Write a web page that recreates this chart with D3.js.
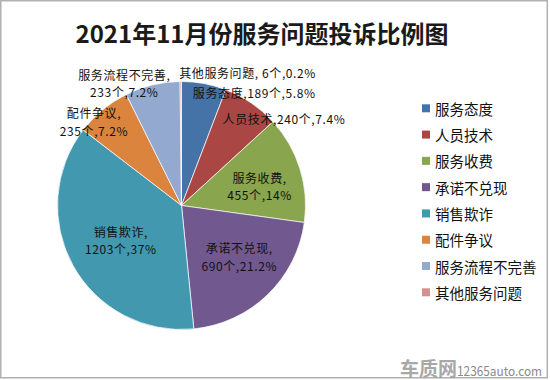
<!DOCTYPE html>
<html><head><meta charset="utf-8">
<script src="https://cdn.jsdelivr.net/npm/d3@7"></script>
<style>
html,body{margin:0;padding:0;background:#fff;}
svg{display:block;}
text{font-family:"Noto Sans CJK SC","Liberation Sans",sans-serif;}
</style></head>
<body>
<svg id="chart" width="550" height="380"></svg>
<script>
const title = "2021年11月份服务问题投诉比例图";
const categories = ["服务态度","人员技术","服务收费","承诺不兑现","销售欺诈","配件争议","服务流程不完善","其他服务问题"];
const counts = [189,240,455,690,1203,235,233,6];
const percentLabels = ["5.8%","7.4%","14%","21.2%","37%","7.2%","7.2%","0.2%"];
const colors = ["#4572A7","#AA4643","#89A54E","#71588F","#4198AF","#DB843D","#93A9CF","#D19392"];
// label layout: [angle in degrees from 12 o'clock, radius factor, multi-line]
const labelLayout = [[33.1,1.074,false],[50.0,1.079,false],[76.7,0.647,true],[132.0,0.627,true],[239.8,0.566,true],[313.5,0.973,true],[334.8,1.083,true],[26.6,1.19,false]];

const svg = d3.select("#chart");
svg.append("rect").attr("x",0.75).attr("y",0.75).attr("width",546.5).attr("height",377)
  .attr("fill","#fff").attr("stroke","#b0b0b0").attr("stroke-width",1.5);

svg.append("text").attr("x",262).attr("y",32).attr("text-anchor","middle")
  .attr("dominant-baseline","central").attr("font-size",24).attr("font-weight","bold")
  .attr("fill","#1a1a1a").text(title);

const cx = 181.5, cy = 205.5, r = 124;
const data = categories.map((c,i)=>({name:c,value:counts[i],pct:percentLabels[i],color:colors[i],layout:labelLayout[i]}));
const pie = d3.pie().value(d=>d.value).sort(null).startAngle(0).endAngle(2*Math.PI);
const arc = d3.arc().innerRadius(0).outerRadius(r);
const g = svg.append("g").attr("transform",`translate(${cx},${cy})`);
const arcs = pie(data);
g.selectAll("path").data(arcs).enter().append("path")
  .attr("d",arc).attr("fill",d=>d.data.color).attr("stroke","#fff").attr("stroke-width",0.7);

const labels = g.selectAll("text.lbl").data(arcs).enter().append("text").attr("class","lbl")
  .attr("text-anchor","middle").attr("font-size",12).attr("letter-spacing","0.6px").attr("fill","#111")
  .attr("transform",d=>{
    const a = d.data.layout[0]*Math.PI/180, f = d.data.layout[1];
    return `translate(${Math.sin(a)*r*f},${-Math.cos(a)*r*f})`;
  });
labels.each(function(d){
  const sel = d3.select(this);
  const sep = d.data.name==="其他服务问题" ? ", " : ",";
  if(d.data.layout[2]){
    sel.append("tspan").attr("x",0).attr("y",-4.3).text(d.data.name+",");
    sel.append("tspan").attr("x",0).attr("y",13.3).text(d.data.value+"个,"+d.data.pct);
  } else {
    sel.append("tspan").attr("x",0).attr("y",4.3).text(d.data.name+sep+d.data.value+"个,"+d.data.pct);
  }
});

const legend = svg.append("g");
const ly = d3.scalePoint().domain(categories).range([108.3,292.3]);
legend.selectAll("rect").data(data).enter().append("rect")
  .attr("x",422).attr("y",d=>ly(d.name)-4).attr("width",8).attr("height",8).attr("fill",d=>d.color);
legend.selectAll("text").data(data).enter().append("text")
  .attr("x",435).attr("y",d=>ly(d.name)).attr("dominant-baseline","central")
  .attr("font-size",14.5).attr("fill","#111").text(d=>d.name);

svg.append("text").attr("x",400).attr("y",376).attr("font-size",19).attr("font-weight","bold")
  .attr("fill","#9a9a9a").attr("opacity",0.85).text("车质网");
svg.append("text").attr("x",457).attr("y",376).attr("font-size",13)
  .attr("textLength",85).attr("lengthAdjust","spacingAndGlyphs")
  .attr("fill","#8a8a8a").attr("font-family","Liberation Sans, sans-serif").text("12365auto.com");
</script>
</body></html>
